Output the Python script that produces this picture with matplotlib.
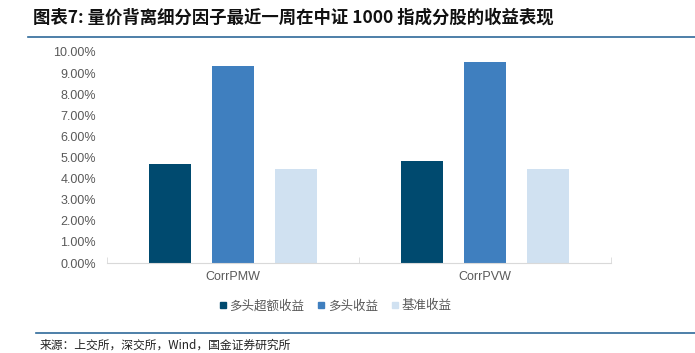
import matplotlib.pyplot as plt
import numpy as np
from matplotlib.lines import Line2D

plt.rcParams['font.family'] = ['Noto Sans CJK SC', 'DejaVu Sans']

# Datos
categorias = ["CorrPMW", "CorrPVW"]
series = ["多头超额收益", "多头收益", "基准收益"]
exceso = [4.69, 4.83]
largo = [9.34, 9.53]
base = [4.45, 4.45]
colores = ["#004A6F", "#3F7FBF", "#D0E1F1"]

fig = plt.figure(figsize=(6.95, 3.53), dpi=100)
ax = fig.add_axes([107 / 695, 1 - 263 / 353, (611 - 107) / 695, (263 - 52) / 353])

x = np.arange(len(categorias))
ancho = 0.163
for i, (vals, col, nombre) in enumerate(zip([exceso, largo, base], colores, series)):
    ax.bar(x + (i - 1) * 0.25, vals, width=ancho, color=col, label=nombre, zorder=2)

ax.set_xlim(-0.5, 1.5)
ax.set_ylim(0, 10)
ax.set_yticks(np.arange(0, 11, 1))
ax.set_yticklabels([f"{v:.2f}%" for v in range(11)], fontsize=9, color="#595959",
                   family=['Liberation Sans', 'DejaVu Sans'])
ax.set_xticks(x)
ax.set_xticklabels(categorias, fontsize=9, color="#595959", family=['Liberation Sans', 'DejaVu Sans'])
ax.tick_params(axis='x', length=0, pad=6)
ax.tick_params(axis='y', length=0, pad=8)
ax.set_xticks([-0.5, 0.5, 1.5], minor=True)
ax.tick_params(axis='x', which='minor', direction='in', length=4, color="#D9D9D9")

for lado in ["top", "right", "left"]:
    ax.spines[lado].set_visible(False)
ax.spines["bottom"].set_color("#D9D9D9")

# Leyenda
handles = [Line2D([], [], marker='s', linestyle='', markersize=5, color=c) for c in colores]
fig.legend(handles, series, loc='center', bbox_to_anchor=(335 / 695, 1 - 306 / 353), ncol=3,
           frameon=False, fontsize=9, handlelength=0.7, handletextpad=0.2, columnspacing=1.0,
           labelcolor="#595959")

# Titulo y fuente
fig.text(33 / 695, 1 - 18 / 353, "图表7: 量价背离细分因子最近一周在中证 1000 指成分股的收益表现",
         fontsize=12.5, fontweight='bold', style='italic', va='center', ha='left', color="#111111")
fig.add_artist(Line2D([28 / 695, 1], [1 - 37 / 353] * 2, color="#2F6A9A", lw=1.2))
fig.add_artist(Line2D([36 / 695, 1], [1 - 333 / 353] * 2, color="#2F6A9A", lw=1.2))
fig.text(40 / 695, 1 - 345 / 353, "来源：上交所，深交所，Wind，国金证券研究所",
         fontsize=8.5, va='center', ha='left', color="#222222")

fig.savefig("out.png", dpi=100)
